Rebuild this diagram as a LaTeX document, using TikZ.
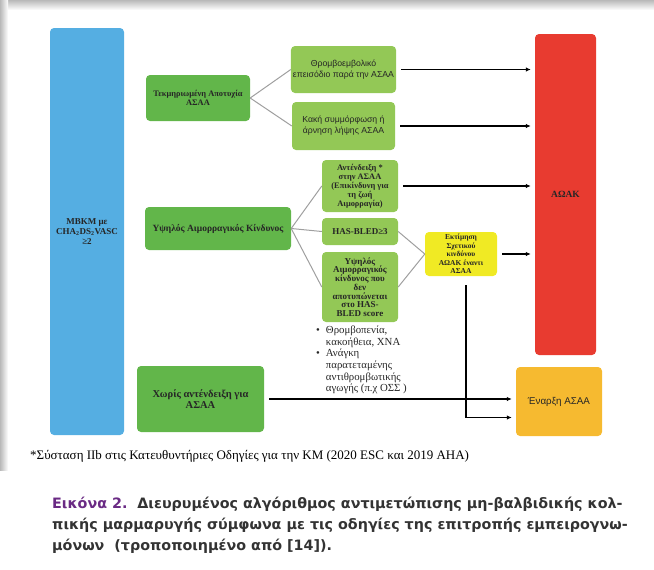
\documentclass[tikz,border=0pt]{standalone}
\usepackage{fontspec}
\setmainfont{Liberation Serif}
\newfontfamily\boxsans{Liberation Sans}
\newfontfamily\capfont{DejaVu Sans}
\usetikzlibrary{arrows.meta}

\definecolor{mbkmblue}{HTML}{55AEE2}
\definecolor{darkgreen}{HTML}{62B64A}
\definecolor{lightgreen}{HTML}{93C856}
\definecolor{aoakred}{HTML}{E83B30}
\definecolor{esayellow}{HTML}{F0EA24}
\definecolor{startorange}{HTML}{F6BA30}
\definecolor{capurple}{HTML}{6A2A84}

\begin{document}
\begin{tikzpicture}[x=1pt,y=-1pt,
    box/.style={rounded corners=4pt, align=center, inner sep=2pt, text=black!85},
    serifbox/.style={box, font=\fontsize{7.5}{8.5}\selectfont\bfseries},
    sansbox/.style={box, font=\boxsans\fontsize{8.7}{11}\selectfont},
    link/.style={draw=gray!75, line width=1pt},
    arr/.style={-{Latex[length=5pt,width=4.5pt]}, line width=1.2pt, shorten >=4pt, shorten <=5pt}]

      \useasboundingbox (0,0) rectangle (654,570);
      \shade[top color=gray!55, bottom color=white] (0,0) rectangle (654,10);
      \shade[left color=gray!55, right color=white] (0,0) rectangle (8,470);

      \node[serifbox, fill=mbkmblue, minimum width=74pt, minimum height=407pt,
        font=\fontsize{9}{10}\selectfont\bfseries] (mbkm) at (87,231.5)
        {ΜΒΚΜ με\\CHA\textsubscript{2}DS\textsubscript{2}VASC\\≥2};
      \node[serifbox, fill=darkgreen, minimum width=104pt, minimum height=46pt,
        font=\fontsize{8.4}{9}\selectfont\bfseries] (fail) at (198,98)
        {Τεκμηριωμένη Αποτυχία\\ΑΣΑΑ};
      \node[sansbox, fill=lightgreen, minimum width=103pt, minimum height=47pt] (thromb) at (343.5,69.5)
        {Θρομβοεμβολικό\\επεισόδιο παρά την ΑΣΑΑ};
      \node[sansbox, fill=lightgreen, minimum width=103pt, minimum height=48pt] (compl) at (343.5,126)
        {Κακή συμμόρφωση ή\\άρνηση λήψης ΑΣΑΑ};
      \node[serifbox, fill=aoakred, minimum width=61pt, minimum height=321pt,
        font=\fontsize{9.5}{10}\selectfont\bfseries] (aoak) at (565.5,194.5)
        {ΑΩΑΚ};

      \node[serifbox, fill=darkgreen, minimum width=146pt, minimum height=43pt,
        font=\fontsize{9.5}{10}\selectfont\bfseries] (bleed) at (218,228.5)
        {Υψηλός Αιμορραγικός Κίνδυνος};
      \node[serifbox, fill=lightgreen, minimum width=76pt, minimum height=52pt,
        font=\fontsize{8.4}{9}\selectfont\bfseries] (contra) at (360,186)
        {Αντένδειξη *\\στην ΑΣΑΑ\\(Επικίνδυνη για\\τη ζωή\\Αιμορραγία)};
      \node[serifbox, fill=lightgreen, minimum width=76pt, minimum height=27pt,
        font=\fontsize{9}{10}\selectfont\bfseries] (hasbled) at (360,231.5)
        {HAS-BLED≥3};
      \node[serifbox, fill=lightgreen, minimum width=76pt, minimum height=70pt,
        font=\fontsize{9}{8.7}\selectfont\bfseries] (hidden) at (360,287)
        {Υψηλός\\Αιμορραγικός\\κίνδυνος που\\δεν\\αποτυπώνεται\\στο HAS-\\BLED score};
      \node[serifbox, fill=esayellow, minimum width=72pt, minimum height=44pt] (assess) at (461,254)
        {Εκτίμηση\\Σχετικού\\κινδύνου\\ΑΩΑΚ έναντι\\ΑΣΑΑ};

      \node[serifbox, fill=darkgreen, minimum width=127pt, minimum height=66pt,
        font=\fontsize{10.5}{11.5}\selectfont\bfseries] (noci) at (200.5,399)
        {Χωρίς αντένδειξη για\\ΑΣΑΑ};
      \node[sansbox, fill=startorange, minimum width=86pt, minimum height=69pt,
        font=\boxsans\fontsize{9.8}{11}\selectfont] (start) at (559,401.5)
        {Έναρξη ΑΣΑΑ};

      \node[anchor=north west, inner sep=0pt, align=left, text=black!85,
        font=\fontsize{10.8}{11.7}\selectfont] (risks) at (316,325)
        {\begin{tabular}{@{}l@{\hspace{6pt}}l@{}}
          \textbullet & Θρομβοπενία,\\
                      & κακοήθεια, ΧΝΑ\\
          \textbullet & Ανάγκη\\
                      & παρατεταμένης\\
                      & αντιθρομβωτικής\\
                      & αγωγής (π.χ ΟΣΣ )
        \end{tabular}};

      \node[anchor=west, inner sep=0pt, font=\fontsize{13}{14}\selectfont] (note) at (30,456)
        {*Σύσταση IIb στις Κατευθυντήριες Οδηγίες για την ΚΜ (2020 ESC και 2019 AHA)};

      \node[anchor=north west, inner sep=0pt, align=left, text=black!80,
        font=\capfont\bfseries\fontsize{14.3}{21}\selectfont] (caption) at (52,497)
        {\textcolor{capurple}{Εικόνα 2.}\ \ Διευρυμένος αλγόριθμος αντιμετώπισης μη-βαλβιδικής κολ-\\
         πικής μαρμαρυγής σύμφωνα με τις οδηγίες της επιτροπής εμπειρογνω-\\
         μόνων\ \ (τροποποιημένο από [14]).};

      \path[link]
      (fail.east) edge (thromb.west)
      (fail.east) edge (compl.west)
      (bleed.east) edge (contra.west)
      (bleed.east) edge (hasbled.west)
      (bleed.east) edge (hidden.west)
      (hasbled.east) edge (assess.west)
      (hidden.east) edge (assess.west);

      \path[arr]
      (thromb.east) edge (thromb.east -| aoak.west)
      (compl.east) edge (compl.east -| aoak.west)
      (contra.east) edge (contra.east -| aoak.west)
      (assess.east) edge (assess.east -| aoak.west)
      (noci.east) edge (noci.east -| start.west);

      \draw[arr, shorten <=0pt] ([xshift=5pt,yshift=-9pt]assess.south) |- ([yshift=-16pt]start.west);
    \end{tikzpicture}
\end{document}
